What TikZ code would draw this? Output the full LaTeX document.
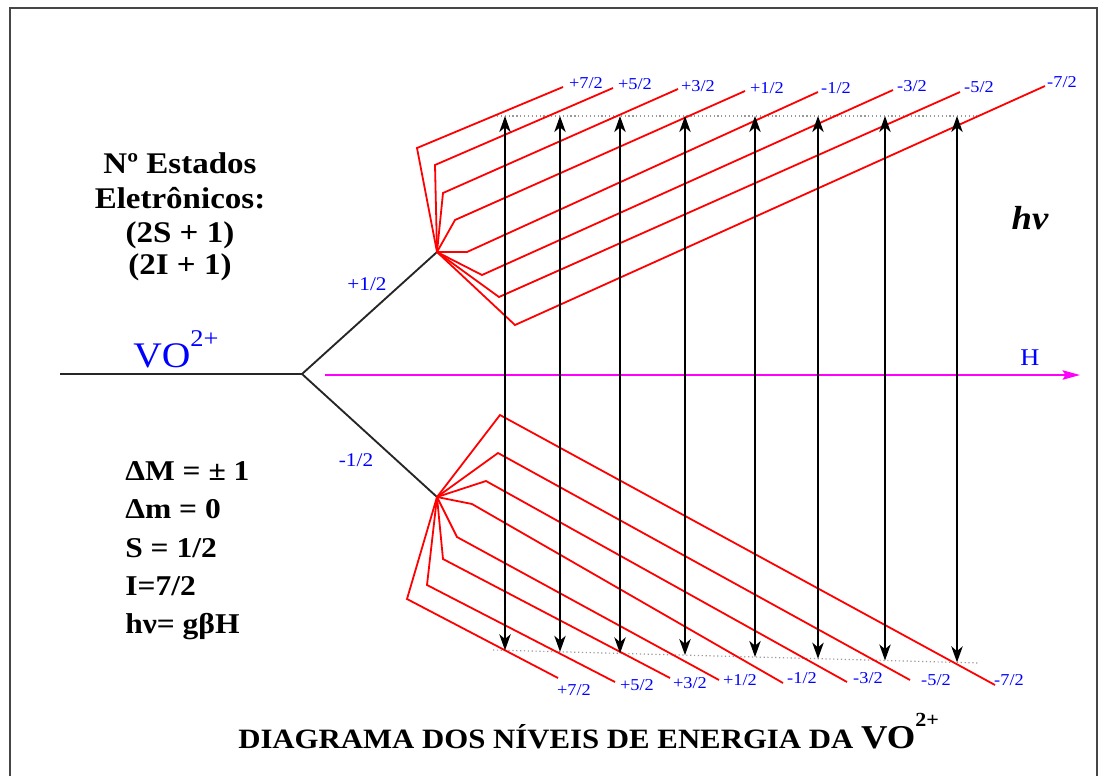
\documentclass[tikz,border=0pt]{standalone}
\usepackage{fontspec}
\setmainfont{Liberation Serif}[FakeStretch=1.1]
\usetikzlibrary{arrows.meta}
\definecolor{lblblue}{RGB}{0,0,255}
\definecolor{hmag}{RGB}{255,0,255}
\definecolor{framegray}{RGB}{70,70,70}
\begin{document}
\begin{tikzpicture}[x=0.75pt,y=-0.75pt,
  levelline/.style={draw=black!85,line width=1.4pt},
  redline/.style={draw=red,line width=1.35pt},
  transarrow/.style={draw=black,line width=1.4pt,
    {Stealth[length=12pt,width=8.5pt,inset=3.5pt]}-{Stealth[length=12pt,width=8.5pt,inset=3.5pt]}},
  fieldarrow/.style={draw=hmag,line width=1.4pt,-{Stealth[length=13pt,width=7pt,inset=2pt]}},
  dotline/.style={draw=gray!80,line width=0.9pt,dotted},
  framel/.style={draw=framegray,line width=1.2pt},
  mlbl/.style={text=lblblue,inner sep=0pt,font=\fontsize{12.5pt}{14pt}\selectfont},
  slbl/.style={text=lblblue,inner sep=0pt,font=\fontsize{14.5pt}{16pt}\selectfont},
  bigtxt/.style={anchor=base,inner sep=0pt,font=\bfseries\fontsize{22.5pt}{26pt}\selectfont},
  ruletxt/.style={anchor=base west,inner sep=0pt,font=\bfseries\fontsize{21.5pt}{24pt}\selectfont}
]
\useasboundingbox (0,0) rectangle (1106,776);

% frame
\coordinate (fa) at (10,776);
\coordinate (fb) at (10,8);
\coordinate (fc) at (1097,8);
\coordinate (fd) at (1097,776);
\draw[framel] (fa) -- (fb) -- (fc) -- (fd);

% main levels
\coordinate (V0) at (60,374);
\coordinate (S) at (302,374);
\coordinate (U) at (437,252);
\coordinate (L) at (437,497);
\draw[levelline] (V0) -- (S);
\draw[levelline] (S) -- (U);
\draw[levelline] (S) -- (L);

% field arrow
\coordinate (h0) at (325,375);
\coordinate (h1) at (1080,375);
\draw[fieldarrow] (h0) -- (h1);
\node[text=lblblue,inner sep=0pt,font=\fontsize{18pt}{20pt}\selectfont] (Hlab) at (1030,358) {H};

% dotted reference lines
\coordinate (dt1) at (497,116);
\coordinate (dt2) at (977,116);
\draw[dotline] (dt1) -- (dt2);
\coordinate (db1) at (493,650);
\coordinate (db2) at (980,663);
\draw[dotline] (db1) -- (db2);

% upper fan
\foreach \i/\cx/\cy/\ex/\ey/\lx/\ly/\txt in {
  1/417/148/563/87/586/83/+7\slash 2,
  2/435/165/613/88/635/84/+5\slash 2,
  3/443/193/678/89/698/86/+3\slash 2,
  4/455/220/745/91/767/88/+1\slash 2,
  5/467/252/818/92/836/88/-1\slash 2,
  6/482/275/893/90/912/86/-3\slash 2,
  7/499/297/960/92/979/87/-5\slash 2,
  8/515/325/1045/86/1062/82/-7\slash 2}{
  \coordinate (uc\i) at (\cx,\cy);
  \coordinate (ue\i) at (\ex,\ey);
  \draw[redline,line join=miter] (U) -- (uc\i) -- (ue\i);
  \node[mlbl] (ul\i) at (\lx,\ly) {\txt};
}

% lower fan
\foreach \i/\cx/\cy/\ex/\ey/\lx/\ly/\txt in {
  1/500/415/995/685/1009/680/-7\slash 2,
  2/498/453/910/680/936/680/-5\slash 2,
  3/486/481/847/682/868/678/-3\slash 2,
  4/472/504/783/683/802/678/-1\slash 2,
  5/457/537/719/680/740/680/+1\slash 2,
  6/443/559/670/678/690/683/+3\slash 2,
  7/427/585/615/682/637/685/+5\slash 2,
  8/407/599/558/678/574/690/+7\slash 2}{
  \coordinate (lc\i) at (\cx,\cy);
  \coordinate (le\i) at (\ex,\ey);
  \draw[redline,line join=miter] (L) -- (lc\i) -- (le\i);
  \node[mlbl] (ll\i) at (\lx,\ly) {\txt};
}

% transitions
\foreach \i/\x in {1/505,2/560,3/620,4/685,5/755,6/818,7/885,8/957}{
  \coordinate (at\i) at (\x,116);
  \coordinate (ab\i) at (\x,{650+(\x-493)*13/487});
  \draw[transarrow] (ab\i) -- (at\i);
}

% side labels
\node[slbl] (lp) at (367,284) {+1/2};
\node[slbl] (lm) at (356,460) {-1/2};

% VO2+
\node[anchor=base west,inner sep=0pt,text=lblblue,font=\fontsize{27pt}{30pt}\selectfont] (vo) at (133,367)
  {VO\raisebox{15.5pt}{\fontsize{18pt}{20pt}\selectfont 2+}};

% upper-left text
\node[bigtxt] (t1) at (180,173) {Nº Estados};
\node[bigtxt] (t2) at (180,208) {Eletrônicos:};
\node[bigtxt] (t3) at (180,242) {(2S + 1)};
\node[bigtxt] (t4) at (180,274) {(2I + 1)};

% lower-left rules
\node[ruletxt] (r1) at (125,480) {ΔM = ± 1};
\node[ruletxt] (r2) at (125,518) {Δm = 0};
\node[ruletxt] (r3) at (125,557) {S = 1/2};
\node[ruletxt] (r4) at (125,595) {I=7/2};
\node[ruletxt] (r5) at (125,633) {hν= gβH};

% h nu
\node[inner sep=0pt,font=\bfseries\itshape\fontsize{25pt}{27pt}\selectfont] (hnu) at (1030,218) {hν};

% title
\node[anchor=base west,inner sep=0pt,font=\bfseries\fontsize{21pt}{24pt}\selectfont] (title) at (238,748)
  {DIAGRAMA DOS NÍVEIS DE ENERGIA DA {\fontsize{25pt}{28pt}\selectfont VO}\raisebox{16pt}{\fontsize{15pt}{16pt}\selectfont 2+}};
\end{tikzpicture}
\end{document}
